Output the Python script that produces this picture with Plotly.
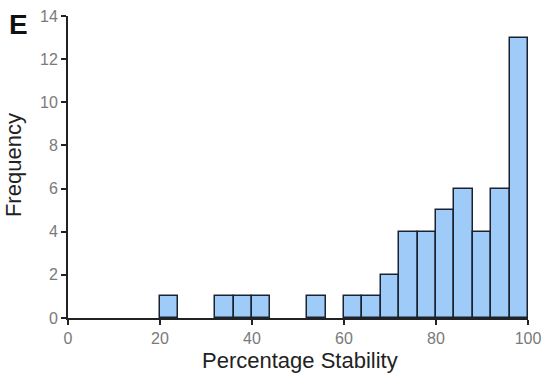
import plotly.graph_objects as go

bin_starts = [20, 32, 36, 40, 52, 60, 64, 68, 72, 76, 80, 84, 88, 92, 96]
counts = [1, 1, 1, 1, 1, 1, 1, 2, 4, 4, 5, 6, 4, 6, 13]
bin_width = 4
x_ticks = [0, 20, 40, 60, 80, 100]
y_ticks = [0, 2, 4, 6, 8, 10, 12, 14]

FONT = "Liberation Sans, Arial, sans-serif"

fig = go.Figure()
fig.add_trace(go.Bar(
    x=bin_starts, y=counts, width=bin_width, offset=0,
    marker=dict(color="#9ECBF7", line=dict(color="#1a2230", width=1.5)),
))

tickfont = dict(family=FONT, size=16, color="#7a7a7a")
titlefont = dict(family=FONT, size=22, color="#222222")

fig.update_layout(
    width=544, height=376,
    margin=dict(l=68, r=16, t=16, b=58),
    paper_bgcolor="white", plot_bgcolor="white",
    showlegend=False,
    bargap=0,
    xaxis=dict(
        range=[0, 100], tickvals=x_ticks, ticks="outside", ticklen=5, tickwidth=1.5,
        tickcolor="#222222", showline=True, linecolor="#222222", linewidth=1.8,
        showgrid=False, zeroline=False, tickfont=tickfont, automargin=False,
        ticklabelstandoff=0,
    ),
    yaxis=dict(
        range=[0, 14], tickvals=y_ticks, ticks="outside", ticklen=5, tickwidth=1.5,
        tickcolor="#222222", showline=True, linecolor="#222222", linewidth=1.8,
        showgrid=False, zeroline=False, tickfont=tickfont, automargin=False,
    ),
    annotations=[
        dict(text="Percentage Stability", x=0.504, y=-0.142, xref="paper", yref="paper",
             xanchor="center", yanchor="middle", showarrow=False, font=titlefont),
        dict(text="Frequency", x=-0.117, y=0.507, xref="paper", yref="paper", textangle=-90,
             xanchor="center", yanchor="middle", showarrow=False, font=titlefont),
        dict(text="<b>E</b>", x=-0.132, y=1.03, xref="paper", yref="paper",
             xanchor="left", yanchor="top", showarrow=False,
             font=dict(family=FONT, size=28, color="#111111")),
    ],
)

fig.write_html("out.html")
